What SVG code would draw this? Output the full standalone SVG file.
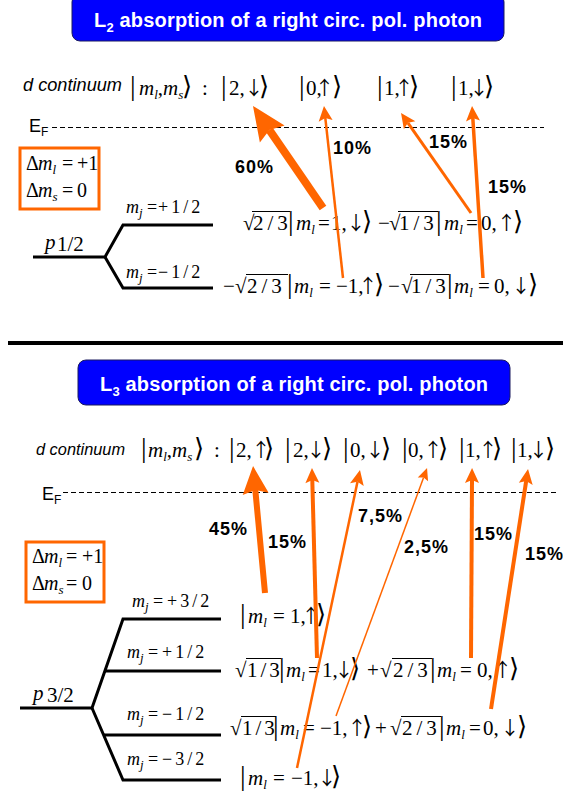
<svg xmlns="http://www.w3.org/2000/svg" width="563" height="800" viewBox="0 0 563 800">
<style>
.t{font-family:"Liberation Sans",Arial,sans-serif;font-weight:bold;font-size:20px;fill:#fff}
.dc{font-family:"Liberation Sans",Arial,sans-serif;font-style:italic;fill:#000}
.ef{font-family:"Liberation Sans",Arial,sans-serif;font-size:18px;fill:#000}
.m{font-family:"Liberation Serif","Times New Roman","DejaVu Serif",serif;font-size:21px;fill:#000}
.i{font-style:italic}
.sb{font-size:13px;font-style:italic}
.bar{font-size:28px}
.ang{font-family:"DejaVu Sans",sans-serif;font-size:26px}
.aw{font-family:"Noto Sans CJK JP","Noto Sans CJK SC",sans-serif;font-size:19px}
.lab{font-size:18px}
.dm{font-size:20px}
.pct{font-family:"Liberation Sans",Arial,sans-serif;font-weight:bold;font-size:18px;letter-spacing:1px;fill:#000}
.lv{fill:none;stroke:#000;stroke-width:3}
.ar{stroke:#FF6600;fill:none}
.hd{fill:#FF6600}
.box{fill:none;stroke:#FF6600;stroke-width:3}
.dash{stroke:#000;stroke-width:1;stroke-dasharray:5 3}
.ov{stroke:#000;stroke-width:1}
.blue{fill:#0000FF;stroke:#1a1a5e;stroke-width:1}
</style>
<defs>
<marker id="hB" markerUnits="userSpaceOnUse" orient="auto" overflow="visible" refX="5" refY="0" markerWidth="1" markerHeight="1"><path class="hd" d="M0,-15 L34,0 L0,15 L5,0 z"/></marker>
<marker id="hM" markerUnits="userSpaceOnUse" orient="auto" overflow="visible" refX="4" refY="0" markerWidth="1" markerHeight="1"><path class="hd" d="M0,-13 L28,0 L0,13 L4,0 z"/></marker>
<marker id="h" markerUnits="userSpaceOnUse" orient="auto" overflow="visible" refX="3" refY="0" markerWidth="1" markerHeight="1"><path class="hd" d="M0,-7 L15,0 L0,7 L3,0 z"/></marker>
<marker id="hS" markerUnits="userSpaceOnUse" orient="auto" overflow="visible" refX="2" refY="0" markerWidth="1" markerHeight="1"><path class="hd" d="M0,-5.5 L12,0 L0,5.5 L2,0 z"/></marker>
</defs>

<!-- ============ L2 section ============ -->
<g id="title-L2">
<rect class="blue" x="72" y="-6" width="432" height="47" rx="8"/>
<text class="t" x="94" y="27" textLength="388" lengthAdjust="spacing">L<tspan font-size="13" dy="5">2</tspan><tspan dy="-5"> absorption of a right circ. pol. photon</tspan></text>
</g>

<g id="continuum-L2">
<text class="dc" x="23" y="91" font-size="18" textLength="99" lengthAdjust="spacingAndGlyphs">d continuum</text>
<text class="m" y="95"><tspan class="bar" x="130">|</tspan><tspan class="i" x="139">m</tspan><tspan class="sb" dy="4">l</tspan><tspan dy="-4">,</tspan><tspan class="i" x="163">m</tspan><tspan class="sb" dy="4">s</tspan><tspan class="ang" x="182" dy="-4">⟩</tspan><tspan x="202">:</tspan></text>
</g>
<g id="ket-L2-2down"><text class="m" y="95"><tspan class="bar" x="221">|</tspan><tspan x="229">2,</tspan><tspan class="aw" x="244.5">↓</tspan><tspan class="ang" x="259">⟩</tspan></text></g>
<g id="ket-L2-0up"><text class="m" y="95"><tspan class="bar" x="299">|</tspan><tspan x="306">0,</tspan><tspan class="aw" x="315">↑</tspan><tspan class="ang" x="332">⟩</tspan></text></g>
<g id="ket-L2-1up"><text class="m" y="95"><tspan class="bar" x="377">|</tspan><tspan x="384">1,</tspan><tspan class="aw" x="394.5">↑</tspan><tspan class="ang" x="409">⟩</tspan></text></g>
<g id="ket-L2-1down"><text class="m" y="95"><tspan class="bar" x="451">|</tspan><tspan x="458">1,</tspan><tspan class="aw" x="469.5">↓</tspan><tspan class="ang" x="484">⟩</tspan></text></g>

<g id="fermi-L2">
<text class="ef" x="29" y="132">E<tspan font-size="12" dy="4">F</tspan></text>
<line class="dash" x1="52" y1="127.5" x2="544" y2="127.5"/>
</g>

<g id="rules-L2">
<rect class="box" x="20" y="148" width="79" height="61"/>
<text class="m dm" y="170"><tspan x="26">Δ</tspan><tspan class="i" x="38">m</tspan><tspan class="sb" dy="4">l</tspan><tspan x="62" dy="-4">=</tspan><tspan x="77">+1</tspan></text>
<text class="m dm" y="197"><tspan x="26">Δ</tspan><tspan class="i" x="38">m</tspan><tspan class="sb" dy="4">s</tspan><tspan x="62" dy="-4">=</tspan><tspan x="77">0</tspan></text>
</g>

<g id="level-p12">
<polyline class="lv" points="33,257 105,257 123,225 213,225"/>
<polyline class="lv" points="105,257 123,288 213,288"/>
<text class="m i" x="45" y="249" font-size="30">p</text>
<text class="m" x="57" y="251" font-size="16">1/2</text>
<text class="m lab" y="213"><tspan class="i" x="126">m</tspan><tspan class="sb" dy="4">j</tspan><tspan x="147" dy="-4">=</tspan><tspan x="158" letter-spacing="3">+1/2</tspan></text>
<text class="m lab" y="278"><tspan class="i" x="126">m</tspan><tspan class="sb" dy="4">j</tspan><tspan x="147" dy="-4">=</tspan><tspan x="158" letter-spacing="3">−1/2</tspan></text>
</g>

<g id="state-p12-plus">
<text class="m" y="230"><tspan x="243">√</tspan><tspan x="253" letter-spacing="4">2/3</tspan><tspan class="bar" x="288">|</tspan><tspan class="i" x="296">m</tspan><tspan class="sb" dy="4">l</tspan><tspan x="318" dy="-4">=</tspan><tspan x="331">1,</tspan><tspan class="aw" x="346.5">↓</tspan><tspan class="ang" x="362">⟩</tspan><tspan x="378">−</tspan><tspan x="389">√</tspan><tspan x="399" letter-spacing="4">1/3</tspan><tspan class="bar" x="436">|</tspan><tspan class="i" x="444">m</tspan><tspan class="sb" dy="4">l</tspan><tspan x="466" dy="-4">=</tspan><tspan x="481">0,</tspan><tspan class="aw" x="497">↑</tspan><tspan class="ang" x="513">⟩</tspan></text>
<line class="ov" x1="252" y1="211.5" x2="290" y2="211.5"/>
<line class="ov" x1="398" y1="211.5" x2="438" y2="211.5"/>
</g>

<g id="state-p12-minus">
<text class="m" y="293"><tspan x="223">−</tspan><tspan x="235">√</tspan><tspan x="247" letter-spacing="4">2/3</tspan><tspan class="bar" x="287">|</tspan><tspan class="i" x="294">m</tspan><tspan class="sb" dy="4">l</tspan><tspan x="319" dy="-4">=</tspan><tspan x="336">−1,</tspan><tspan class="aw" x="358.5">↑</tspan><tspan class="ang" x="374">⟩</tspan><tspan x="388">−</tspan><tspan x="401">√</tspan><tspan x="411" letter-spacing="4">1/3</tspan><tspan class="bar" x="447">|</tspan><tspan class="i" x="454">m</tspan><tspan class="sb" dy="4">l</tspan><tspan x="478" dy="-4">=</tspan><tspan x="494">0,</tspan><tspan class="aw" x="511.5">↓</tspan><tspan class="ang" x="528">⟩</tspan></text>
<line class="ov" x1="246" y1="274.5" x2="288" y2="274.5"/>
<line class="ov" x1="410" y1="274.5" x2="449" y2="274.5"/>
</g>

<g id="separator"><line x1="8" y1="343" x2="563" y2="343" stroke="#000" stroke-width="4"/></g>

<!-- ============ L3 section ============ -->
<g id="title-L3">
<rect class="blue" x="78" y="360" width="432" height="45" rx="8"/>
<text class="t" x="100" y="391" textLength="388" lengthAdjust="spacing">L<tspan font-size="13" dy="5">3</tspan><tspan dy="-5"> absorption of a right circ. pol. photon</tspan></text>
</g>

<g id="continuum-L3">
<text class="dc" x="36" y="455" font-size="16" textLength="89" lengthAdjust="spacingAndGlyphs">d continuum</text>
<text class="m" y="457"><tspan class="bar" x="141">|</tspan><tspan class="i" x="148">m</tspan><tspan class="sb" dy="4">l</tspan><tspan dy="-4">,</tspan><tspan class="i" x="172">m</tspan><tspan class="sb" dy="4">s</tspan><tspan class="ang" x="194" dy="-4">⟩</tspan><tspan x="214">:</tspan></text>
</g>
<g id="ket-L3-2up"><text class="m" y="457"><tspan class="bar" x="229">|</tspan><tspan x="236">2,</tspan><tspan class="aw" x="251.5">↑</tspan><tspan class="ang" x="264">⟩</tspan></text></g>
<g id="ket-L3-2down"><text class="m" y="457"><tspan class="bar" x="285">|</tspan><tspan x="293">2,</tspan><tspan class="aw" x="306.5">↓</tspan><tspan class="ang" x="322">⟩</tspan></text></g>
<g id="ket-L3-0down"><text class="m" y="457"><tspan class="bar" x="343">|</tspan><tspan x="350">0,</tspan><tspan class="aw" x="365.5">↓</tspan><tspan class="ang" x="381">⟩</tspan></text></g>
<g id="ket-L3-0up"><text class="m" y="457"><tspan class="bar" x="402">|</tspan><tspan x="408">0,</tspan><tspan class="aw" x="423.5">↑</tspan><tspan class="ang" x="438">⟩</tspan></text></g>
<g id="ket-L3-1up"><text class="m" y="457"><tspan class="bar" x="459">|</tspan><tspan x="465">1,</tspan><tspan class="aw" x="478.5">↑</tspan><tspan class="ang" x="492">⟩</tspan></text></g>
<g id="ket-L3-1down"><text class="m" y="457"><tspan class="bar" x="511">|</tspan><tspan x="517">1,</tspan><tspan class="aw" x="529">↓</tspan><tspan class="ang" x="545">⟩</tspan></text></g>

<g id="fermi-L3">
<text class="ef" x="42" y="500">E<tspan font-size="12" dy="4">F</tspan></text>
<line class="dash" x1="63" y1="492.5" x2="556" y2="492.5"/>
</g>

<g id="rules-L3">
<rect class="box" x="26" y="542" width="78" height="60"/>
<text class="m dm" y="563"><tspan x="32">Δ</tspan><tspan class="i" x="44">m</tspan><tspan class="sb" dy="4">l</tspan><tspan x="66" dy="-4">=</tspan><tspan x="82">+1</tspan></text>
<text class="m dm" y="590"><tspan x="32">Δ</tspan><tspan class="i" x="44">m</tspan><tspan class="sb" dy="4">s</tspan><tspan x="66" dy="-4">=</tspan><tspan x="82">0</tspan></text>
</g>

<g id="level-p32">
<polyline class="lv" points="20,708 92,708 123,619 221,619"/>
<polyline class="lv" points="92,708 123,780 221,780"/>
<line class="lv" x1="104" y1="671" x2="221" y2="671"/>
<line class="lv" x1="103" y1="735" x2="221" y2="735"/>
<text class="m i" x="33" y="700" font-size="30">p</text>
<text class="m" x="47" y="702" font-size="16">3/2</text>
<text class="m lab" y="607"><tspan class="i" x="132">m</tspan><tspan class="sb" dy="4">j</tspan><tspan x="153" dy="-4">=</tspan><tspan x="167" letter-spacing="3">+3/2</tspan></text>
<text class="m lab" y="658"><tspan class="i" x="127">m</tspan><tspan class="sb" dy="4">j</tspan><tspan x="148" dy="-4">=</tspan><tspan x="162" letter-spacing="3">+1/2</tspan></text>
<text class="m lab" y="720"><tspan class="i" x="127">m</tspan><tspan class="sb" dy="4">j</tspan><tspan x="148" dy="-4">=</tspan><tspan x="162" letter-spacing="3">−1/2</tspan></text>
<text class="m lab" y="765"><tspan class="i" x="127">m</tspan><tspan class="sb" dy="4">j</tspan><tspan x="148" dy="-4">=</tspan><tspan x="162" letter-spacing="3">−3/2</tspan></text>
</g>

<g id="state-p32-p32">
<text class="m" y="623"><tspan class="bar" x="240">|</tspan><tspan class="i" x="248">m</tspan><tspan class="sb" dy="4">l</tspan><tspan x="273" dy="-4">=</tspan><tspan x="290">1,</tspan><tspan class="aw" x="301.5">↑</tspan><tspan class="ang" x="316">⟩</tspan></text>
</g>
<g id="state-p32-p12">
<text class="m" y="677"><tspan x="235">√</tspan><tspan x="247" letter-spacing="3">1/3</tspan><tspan class="bar" x="279">|</tspan><tspan class="i" x="286">m</tspan><tspan class="sb" dy="4">l</tspan><tspan x="308" dy="-4">=</tspan><tspan x="322">1,</tspan><tspan class="aw" x="334.5">↓</tspan><tspan class="ang" x="350">⟩</tspan><tspan x="367">+</tspan><tspan x="380">√</tspan><tspan x="393" letter-spacing="4">2/3</tspan><tspan class="bar" x="430">|</tspan><tspan class="i" x="437">m</tspan><tspan class="sb" dy="4">l</tspan><tspan x="460" dy="-4">=</tspan><tspan x="477">0,</tspan><tspan class="aw" x="493">↑</tspan><tspan class="ang" x="509">⟩</tspan></text>
<line class="ov" x1="246" y1="658.5" x2="281" y2="658.5"/>
<line class="ov" x1="392" y1="658.5" x2="432" y2="658.5"/>
</g>
<g id="state-p32-m12">
<text class="m" y="735"><tspan x="230">√</tspan><tspan x="242" letter-spacing="3">1/3</tspan><tspan class="bar" x="273">|</tspan><tspan class="i" x="280">m</tspan><tspan class="sb" dy="4">l</tspan><tspan x="303" dy="-4">=</tspan><tspan x="320">−1,</tspan><tspan class="aw" x="347.5">↑</tspan><tspan class="ang" x="362">⟩</tspan><tspan x="375">+</tspan><tspan x="390">√</tspan><tspan x="402" letter-spacing="4">2/3</tspan><tspan class="bar" x="439">|</tspan><tspan class="i" x="446">m</tspan><tspan class="sb" dy="4">l</tspan><tspan x="469" dy="-4">=</tspan><tspan x="483">0,</tspan><tspan class="aw" x="500.5">↓</tspan><tspan class="ang" x="517">⟩</tspan></text>
<line class="ov" x1="241" y1="716.5" x2="276" y2="716.5"/>
<line class="ov" x1="401" y1="716.5" x2="441" y2="716.5"/>
</g>
<g id="state-p32-m32">
<text class="m" y="785"><tspan class="bar" x="240">|</tspan><tspan class="i" x="248">m</tspan><tspan class="sb" dy="4">l</tspan><tspan x="273" dy="-4">=</tspan><tspan x="291">−1,</tspan><tspan class="aw" x="317.5">↓</tspan><tspan class="ang" x="331">⟩</tspan></text>
</g>

<!-- ============ connectors ============ -->
<g id="connectors">
<line class="ar" x1="323" y1="208" x2="269.4" y2="129.9" stroke-width="8" marker-end="url(#hB)"/>
<line class="ar" x1="343" y1="278" x2="325.3" y2="117.9" stroke-width="2.5" marker-end="url(#h)"/>
<line class="ar" x1="471" y1="213" x2="407.9" y2="122.8" stroke-width="3" marker-end="url(#h)"/>
<line class="ar" x1="483" y1="278" x2="472.8" y2="118" stroke-width="3.5" marker-end="url(#h)"/>
<line class="ar" x1="265" y1="593" x2="255.3" y2="489.9" stroke-width="6" marker-end="url(#hM)"/>
<line class="ar" x1="317" y1="658" x2="312.3" y2="480" stroke-width="4" marker-end="url(#h)"/>
<line class="ar" x1="297" y1="768" x2="357.5" y2="481.7" stroke-width="2.5" marker-end="url(#h)"/>
<line class="ar" x1="336" y1="716" x2="423.6" y2="477.4" stroke-width="1.5" marker-end="url(#hS)"/>
<line class="ar" x1="471" y1="658" x2="472" y2="480" stroke-width="4" marker-end="url(#h)"/>
<line class="ar" x1="491" y1="709" x2="526.2" y2="480.9" stroke-width="4" marker-end="url(#h)"/>
</g>

<g id="labels">
<text class="pct" x="235" y="173">60%</text>
<text class="pct" x="333" y="154">10%</text>
<text class="pct" x="429" y="148">15%</text>
<text class="pct" x="488" y="193">15%</text>
<text class="pct" x="209" y="535">45%</text>
<text class="pct" x="268" y="548">15%</text>
<text class="pct" x="358" y="522">7,5%</text>
<text class="pct" x="404" y="553">2,5%</text>
<text class="pct" x="474" y="540">15%</text>
<text class="pct" x="525" y="560" letter-spacing="0">15%</text>
</g>
</svg>
